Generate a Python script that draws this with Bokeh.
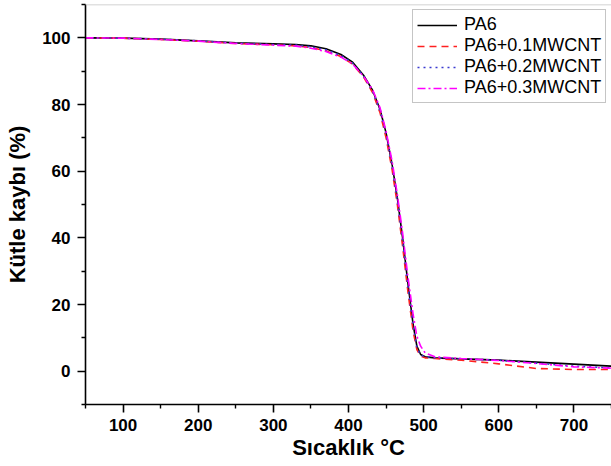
from bokeh.plotting import figure
from bokeh.models import Range1d, Legend, LegendItem, Span, FixedTicker
from bokeh.embed import file_html
from bokeh.resources import INLINE

# ---- data ----
temperature = [50, 100, 150, 200, 250, 300, 330, 350, 370, 390, 405, 420, 432, 442,
               450, 458, 465, 472, 479, 486, 491, 496, 502, 515, 550, 600, 650, 700, 750]
pa6 =    [100.0, 99.9, 99.6, 99.1, 98.5, 98.2, 98.0, 97.6, 96.7, 95.0, 92.8, 88.8, 84.3, 78.5,
          71.5, 62.0, 52.0, 40.0, 26.5, 14.0, 7.5, 5.0, 4.3, 4.0, 3.7, 3.3, 2.7, 2.1, 1.5]
pa6_01 = [100.0, 99.9, 99.5, 99.0, 98.3, 97.9, 97.6, 97.1, 96.1, 94.4, 92.2, 88.3, 83.6, 77.5,
          70.0, 60.5, 50.0, 37.5, 24.0, 12.0, 6.5, 4.5, 4.0, 3.8, 3.3, 2.2, 0.8, 0.5, 0.5]
pa6_02 = [100.0, 99.9, 99.6, 99.1, 98.4, 98.0, 97.8, 97.3, 96.4, 94.7, 92.5, 88.5, 84.0, 78.0,
          71.0, 61.5, 51.0, 39.0, 25.5, 13.5, 7.0, 4.8, 4.3, 4.0, 3.7, 3.3, 2.4, 1.5, 1.0]
pa6_03 = [100.0, 99.9, 99.5, 99.0, 98.3, 97.8, 97.5, 96.9, 95.9, 94.2, 92.2, 88.5, 84.5, 79.0,
          72.0, 63.0, 53.0, 41.5, 28.5, 17.0, 10.5, 7.5, 5.5, 4.3, 3.8, 3.2, 2.3, 1.3, 0.9]

series_labels = ["PA6", "PA6+0.1MWCNT", "PA6+0.2MWCNT", "PA6+0.3MWCNT"]
x_ticks = [100, 200, 300, 400, 500, 600, 700]
x_minor = [50, 150, 250, 350, 450, 550, 650, 750]
y_ticks = [0, 20, 40, 60, 80, 100]
y_minor = [-10, 10, 30, 50, 70, 90, 110]

FONT = "Liberation Sans"

p = figure(width=611, height=466, output_backend="svg", toolbar_location=None,
           x_range=Range1d(50, 750), y_range=Range1d(-10, 110),
           min_border_left=85, min_border_right=0, min_border_top=4, min_border_bottom=62,
           background_fill_color="white", border_fill_color="white")
p.grid.visible = False
p.outline_line_color = None

styles = [
    dict(color="black", line_dash="solid"),
    dict(color="#ff2020", line_dash="7 5"),
    dict(color="#3a3ad0", line_dash="2 4"),
    dict(color="#ff00ff", line_dash="8 3 2 3"),
]
renderers = []
for ys, st in zip([pa6, pa6_01, pa6_02, pa6_03], styles):
    r = p.line(temperature, ys, line_color=st["color"], line_dash=st["line_dash"], line_width=1.6)
    renderers.append(r)

p.add_layout(Span(location=110, dimension="width", line_color="#c4c4c4", line_width=1.5))

for ax, ticks, minor, label in [(p.xaxis[0], x_ticks, x_minor, "Sıcaklık °C"),
                                (p.yaxis[0], y_ticks, y_minor, "Kütle kaybı (%)")]:
    ax.ticker = FixedTicker(ticks=ticks, minor_ticks=minor)
    ax.axis_label = label
    ax.axis_line_width = 1.6
    ax.axis_line_color = "black"
    ax.major_tick_line_width = 1.6
    ax.minor_tick_line_width = 1.4
    ax.major_tick_out = 8
    ax.major_tick_in = 0
    ax.minor_tick_out = 4
    ax.minor_tick_in = 0
    ax.major_label_text_font = FONT
    ax.major_label_text_font_style = "bold"
    ax.major_label_text_font_size = "17px"
    ax.major_label_text_color = "black"
    ax.axis_label_text_font = FONT
    ax.axis_label_text_font_style = "bold"
    ax.axis_label_text_font_size = "22px"
    ax.axis_label_text_color = "black"

p.xaxis[0].major_label_standoff = 6
p.xaxis[0].axis_label_standoff = 1
p.yaxis[0].major_label_standoff = 7
p.yaxis[0].axis_label_standoff = 9

legend = Legend(items=[LegendItem(label=lab, renderers=[r]) for lab, r in zip(series_labels, renderers)],
                location=(327, 301), orientation="vertical",
                label_text_font=FONT, label_text_font_size="18px", label_text_color="black",
                glyph_width=40, glyph_height=18, label_height=18, label_standoff=7,
                spacing=0, padding=4, margin=0,
                border_line_color="#8c8c8c", border_line_width=1.2,
                background_fill_color="white", background_fill_alpha=1.0)
p.add_layout(legend)

open("out.html", "w").write(file_html(p, INLINE))
